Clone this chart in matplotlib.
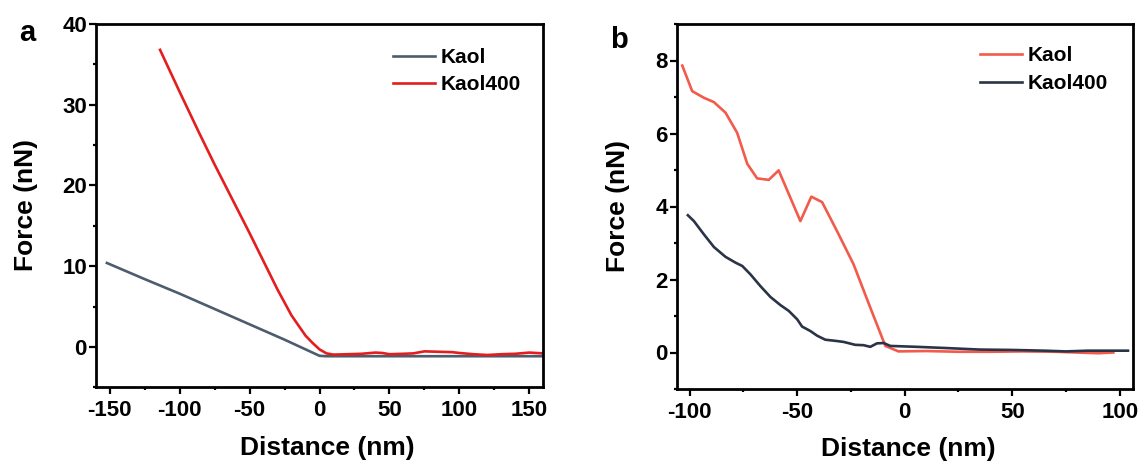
import matplotlib
matplotlib.use("Agg")
import matplotlib.pyplot as plt
from matplotlib.ticker import MultipleLocator

plt.rcParams['font.family'] = ['Liberation Sans', 'DejaVu Sans']
plt.rcParams['font.weight'] = 'bold'
plt.rcParams['axes.unicode_minus'] = False

# ---------- Panel a data ----------
a_kaol_x = [-152, -125, -100, -75, -50, -25, -5, 0, 5, 20, 40, 60, 80, 100, 120, 140, 160]
a_kaol_y = [10.4, 8.4, 6.6, 4.7, 2.8, 0.9, -0.7, -1.1, -1.15, -1.15, -1.15, -1.15, -1.15, -1.15, -1.15, -1.15, -1.15]

a_k400_x = [-114, -100, -86, -75, -60, -50, -40, -30, -20, -10, -5, 0, 5, 10, 20, 30, 40, 45,
            50, 60, 67, 75, 85, 95, 100, 110, 120, 130, 140, 150, 160]
a_k400_y = [36.8, 31.6, 26.5, 22.6, 17.5, 14.1, 10.6, 7.1, 3.9, 1.4, 0.5, -0.3, -0.8, -0.95, -0.9, -0.85,
            -0.7, -0.75, -0.9, -0.85, -0.8, -0.55, -0.6, -0.65, -0.75, -0.9, -1.0, -0.9, -0.85, -0.7, -0.8]

# ---------- Panel b data ----------
b_kaol_x = [-103.4, -98.8, -93.4, -88.7, -83.3, -77.9, -73.2, -68.6, -63.2, -58.6, -48.5, -43.4,
            -38.4, -31.5, -23.8, -16.0, -9.0, -2.9, 10, 25, 40, 55, 70, 80, 90, 97]
b_kaol_y = [7.86, 7.16, 6.98, 6.86, 6.57, 6.02, 5.17, 4.77, 4.73, 4.99, 3.60, 4.27,
            4.12, 3.33, 2.42, 1.23, 0.18, 0.03, 0.04, 0.02, 0.02, 0.03, 0.02, 0.0, -0.02, 0.0]

b_k400_x = [-100.8, -98.0, -93.4, -88.7, -83.3, -78.6, -75.5, -71.7, -67.1, -62.4, -57.8, -53.9,
            -50.0, -47.7, -43.9, -40.7, -36.9, -32.3, -28.4, -23.0, -19.1, -16.0, -12.9, -9.8,
            -6.7, 5.7, 20, 35, 50, 65, 75, 85, 95, 103.8]
b_k400_y = [3.76, 3.60, 3.24, 2.89, 2.62, 2.46, 2.37, 2.14, 1.82, 1.52, 1.30, 1.14,
            0.91, 0.71, 0.59, 0.46, 0.35, 0.32, 0.29, 0.21, 0.20, 0.155, 0.25, 0.26,
            0.18, 0.155, 0.12, 0.08, 0.07, 0.05, 0.03, 0.05, 0.05, 0.05]

W, H = 1145, 466
fig = plt.figure(figsize=(W / 100, H / 100), dpi=100)


def px_axes(l, t, r, b):
    return fig.add_axes([l / W, 1 - b / H, (r - l) / W, (b - t) / H])


def style(ax):
    for s in ax.spines.values():
        s.set_linewidth(2.0)
    ax.tick_params(which='major', direction='out', length=4.8, width=1.6, labelsize=16, pad=1.5)
    ax.tick_params(axis='x', which='major', pad=4.3)
    ax.tick_params(which='minor', direction='out', length=2.4, width=1.6)


# Panel a
axa = px_axes(95.7, 24, 543.3, 387.3)
axa.plot(a_kaol_x, a_kaol_y, color='#4d5d6e', lw=1.9, label='Kaol')
axa.plot(a_k400_x, a_k400_y, color='#e41e1e', lw=1.9, label='Kaol400')
axa.set_xlim(-160, 160)
axa.set_ylim(-5, 40)
axa.xaxis.set_major_locator(MultipleLocator(50))
axa.xaxis.set_minor_locator(MultipleLocator(25))
axa.yaxis.set_major_locator(MultipleLocator(10))
axa.yaxis.set_minor_locator(MultipleLocator(5))
style(axa)
axa.legend(loc='upper left', bbox_to_anchor=(393 / W, 1 - 48 / H), bbox_transform=fig.transFigure,
           frameon=False, handlelength=2.0, handletextpad=0.3, labelspacing=0.4,
           borderpad=0, borderaxespad=0, prop={'weight': 'bold', 'size': 15})

# Panel b
axb = px_axes(676.7, 24, 1132.7, 389)
axb.plot(b_kaol_x, b_kaol_y, color='#f25a4c', lw=1.9, label='Kaol')
axb.plot(b_k400_x, b_k400_y, color='#2b3447', lw=1.9, label='Kaol400')
axb.set_xlim(-106, 106)
axb.set_ylim(-1, 9)
axb.xaxis.set_major_locator(MultipleLocator(50))
axb.xaxis.set_minor_locator(MultipleLocator(25))
axb.yaxis.set_major_locator(MultipleLocator(2))
axb.yaxis.set_minor_locator(MultipleLocator(1))
style(axb)
axb.legend(loc='upper left', bbox_to_anchor=(980 / W, 1 - 46 / H), bbox_transform=fig.transFigure,
           frameon=False, handlelength=2.0, handletextpad=0.3, labelspacing=0.45,
           borderpad=0, borderaxespad=0, prop={'weight': 'bold', 'size': 15})

# Axis labels (pixel-placed)
fs_lab = 19
fig.text(26 / W, 1 - 205 / H, 'Force (nN)', rotation=90, ha='center', va='center', fontsize=fs_lab, fontweight='bold')
fig.text(618 / W, 1 - 206 / H, 'Force (nN)', rotation=90, ha='center', va='center', fontsize=fs_lab, fontweight='bold')
fig.text(327 / W, 1 - 455 / H, 'Distance (nm)', ha='center', va='baseline', fontsize=fs_lab, fontweight='bold')
fig.text(908 / W, 1 - 456 / H, 'Distance (nm)', ha='center', va='baseline', fontsize=fs_lab, fontweight='bold')

# Panel letters
fig.text(19.6 / W, 1 - 40.7 / H, 'a', ha='left', va='baseline', fontsize=21, fontweight='bold')
fig.text(610.6 / W, 1 - 48 / H, 'b', ha='left', va='baseline', fontsize=21, fontweight='bold')

fig.savefig('out.png', dpi=100)
